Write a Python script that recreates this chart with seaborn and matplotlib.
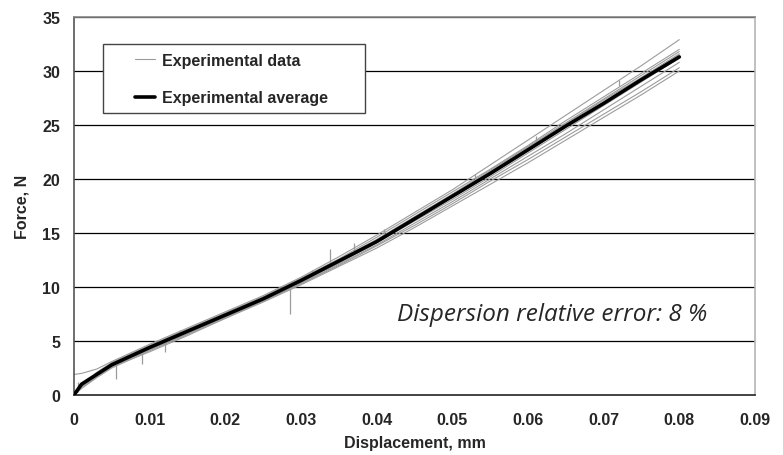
import matplotlib
matplotlib.use("Agg")
import matplotlib.pyplot as plt
import pandas as pd
import seaborn as sns
from matplotlib.patches import Rectangle

# Verschiebung (mm), gemeinsames Raster für alle Proben
DISPLACEMENT = [0, 0.001, 0.003, 0.005, 0.01, 0.015, 0.02, 0.025, 0.03, 0.035,
                0.04, 0.045, 0.05, 0.055, 0.06, 0.065, 0.07, 0.075, 0.08]

# Einzelne Versuchskurven (Kraft, N)
SPECIMEN_1 = [1.9, 2.0, 2.4, 3.1, 4.7, 6.2, 7.7, 9.2, 10.9, 12.8, 14.8, 16.9, 19.0, 21.3, 23.6, 25.9, 28.2, 30.5, 32.9]
SPECIMEN_2 = [0, 0.9, 2.1, 3.0, 4.6, 6.1, 7.6, 9.1, 10.8, 12.6, 14.6, 16.7, 18.8, 20.9, 23.1, 25.4, 27.6, 29.8, 32.0]
SPECIMEN_3 = [0, 0.8, 1.8, 2.7, 4.3, 5.8, 7.4, 8.9, 10.7, 12.5, 14.4, 16.5, 18.6, 20.8, 23.0, 25.2, 27.4, 29.6, 31.8]
SPECIMEN_4 = [0, 1.1, 2.0, 2.9, 4.5, 6.0, 7.5, 9.0, 10.6, 12.4, 14.3, 16.4, 18.5, 20.7, 22.9, 25.1, 27.3, 29.4, 31.6]
SPECIMEN_5 = [0, 0.7, 1.7, 2.6, 4.2, 5.7, 7.2, 8.8, 10.5, 12.3, 14.2, 16.2, 18.3, 20.4, 22.6, 24.9, 27.0, 29.3, 31.5]
SPECIMEN_6 = [0, 1.0, 1.9, 2.8, 4.3, 5.8, 7.3, 8.8, 10.4, 12.2, 14.1, 16.1, 18.1, 20.2, 22.4, 24.6, 26.8, 29.0, 31.2]
SPECIMEN_7 = [0, 0.6, 1.6, 2.5, 4.1, 5.6, 7.1, 8.7, 10.3, 12.1, 13.9, 15.9, 17.9, 20.0, 22.1, 24.2, 26.4, 28.6, 30.8]
SPECIMEN_8 = [0, 0.9, 1.8, 2.7, 4.2, 5.7, 7.2, 8.7, 10.3, 12.0, 13.8, 15.7, 17.7, 19.8, 21.8, 23.9, 26.0, 28.1, 30.3]
SPECIMEN_9 = [0, 0.8, 1.7, 2.6, 4.0, 5.5, 7.1, 8.6, 10.2, 11.9, 13.6, 15.5, 17.5, 19.5, 21.5, 23.6, 25.7, 27.8, 30.0]

SPECIMENS = [SPECIMEN_1, SPECIMEN_2, SPECIMEN_3, SPECIMEN_4, SPECIMEN_5,
             SPECIMEN_6, SPECIMEN_7, SPECIMEN_8, SPECIMEN_9]

# Mittelwertkurve
AVERAGE = [0, 1.0, 1.9, 2.8, 4.4, 5.9, 7.4, 8.9, 10.6, 12.4, 14.2, 16.3, 18.4, 20.5, 22.7, 24.9, 27.0, 29.2, 31.3]

# Messspitzen (Ausreißer) in den Rohdaten
SPIKE_X = [0.0005, 0.0055, 0.009, 0.012, 0.014, 0.0285, 0.0315, 0.0338, 0.037, 0.041, 0.053, 0.061, 0.072]
SPIKE_LOW = [0.3, 1.5, 2.9, 4.0, 5.3, 7.5, 10.8, 11.9, 13.3, 14.6, 19.8, 23.4, 28.6]
SPIKE_HIGH = [1.2, 2.9, 3.8, 4.8, 6.0, 10.2, 11.6, 13.5, 14.1, 15.4, 20.5, 24.0, 29.2]

X_TICKS = [0, 0.01, 0.02, 0.03, 0.04, 0.05, 0.06, 0.07, 0.08, 0.09]
X_TICK_LABELS = ["0", "0.01", "0.02", "0.03", "0.04", "0.05", "0.06", "0.07", "0.08", "0.09"]
Y_TICKS = [0, 5, 10, 15, 20, 25, 30, 35]

GRAY = "#9c9c9c"
FONT_SIZE = 11.5

sns.set_style("white")
plt.rcParams["font.family"] = ["Liberation Sans", "DejaVu Sans"]
plt.rcParams["font.weight"] = "bold"

rows = []
for i, values in enumerate(SPECIMENS):
    for x, y in zip(DISPLACEMENT, values):
        rows.append({"probe": f"P{i + 1}", "x": x, "y": y})
df_raw = pd.DataFrame(rows)
df_avg = pd.DataFrame({"x": DISPLACEMENT, "y": AVERAGE})

fig = plt.figure(figsize=(7.83, 4.56), dpi=100)
ax = fig.add_axes([0.0945, 0.1316, 0.8697, 0.829])

for y in Y_TICKS[1:]:
    ax.axhline(y, color="black", lw=0.9, zorder=1)

sns.lineplot(data=df_raw, x="x", y="y", units="probe", estimator=None,
             color=GRAY, lw=0.8, ax=ax, zorder=2, legend=False)
ax.vlines(SPIKE_X, SPIKE_LOW, SPIKE_HIGH, color=GRAY, lw=0.9, zorder=2)
sns.lineplot(data=df_avg, x="x", y="y", color="black", lw=2.6, ax=ax, zorder=3)

ax.set_xlim(0, 0.09)
ax.set_ylim(0, 35)
ax.set_xticks(X_TICKS)
ax.set_xticklabels(X_TICK_LABELS)
ax.set_yticks(Y_TICKS)
ax.tick_params(axis="both", labelsize=FONT_SIZE, length=5, width=1, color="#555555",
               direction="out", pad=7)
ax.tick_params(axis="y", pad=5)

ax.set_xlabel("Displacement, mm", fontsize=FONT_SIZE, fontweight="bold", labelpad=6)
ax.set_ylabel("Force, N", fontsize=FONT_SIZE, fontweight="bold", labelpad=9)

ax.spines["left"].set_color("#555555")
ax.spines["bottom"].set_color("#222222")
ax.spines["top"].set_color("#888888")
ax.spines["right"].set_color("#b5b5b5")
for side in ["left", "bottom", "top", "right"]:
    ax.spines[side].set_linewidth(1.2)

# Legendenrahmen
ax.add_patch(Rectangle((0.0426, 0.746), 0.385, 0.183, transform=ax.transAxes,
                       facecolor="white", edgecolor="#444444", lw=1.0, zorder=4))
handles = [plt.Line2D([], [], color=GRAY, lw=0.8),
           plt.Line2D([], [], color="black", lw=2.6)]
leg = ax.legend(handles, ["Experimental data", "Experimental average"],
                loc="upper left", bbox_to_anchor=(0.0896, 0.905), frameon=False,
                borderpad=0, borderaxespad=0, handlelength=1.25, handletextpad=0.45,
                labelspacing=1.4, prop={"size": FONT_SIZE, "weight": "bold"})
leg.set_zorder(5)

ax.text(0.0427, 7.5, "Dispersion relative error: 8 %", fontsize=17.5,
        fontstyle="italic", fontweight="normal", family=["Open Sans", "DejaVu Sans"],
        va="center", ha="left", zorder=5)

fig.savefig("out.png", dpi=100)
